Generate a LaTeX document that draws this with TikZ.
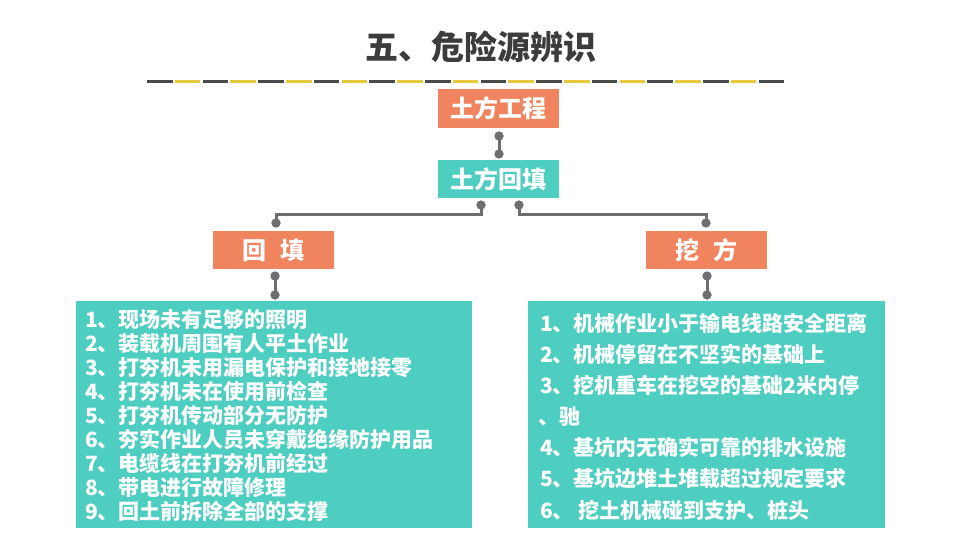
\documentclass[tikz,border=0pt]{standalone}
\usepackage{fontspec}
\newfontfamily\cjk{Noto Sans CJK SC}
\definecolor{orng}{HTML}{F0845E}
\definecolor{tealb}{HTML}{4ECDC1}
\definecolor{conn}{HTML}{6E6E70}
\definecolor{dashd}{HTML}{4A4A4A}
\definecolor{dashy}{HTML}{E6C83C}
\definecolor{ttl}{HTML}{3C3C3C}
\begin{document}
\begin{tikzpicture}[x=1pt,y=-1pt,
  ttlstyle/.style={text=ttl, inner sep=0, font=\cjk\bfseries\fontsize{33}{33}\selectfont},
  obox/.style={fill=orng, inner sep=0, minimum width=121pt, minimum height=38pt, text=white, font=\cjk\bfseries\fontsize{24}{24}\selectfont},
  tbox/.style={fill=tealb, inner sep=0, minimum width=121pt, minimum height=38pt, text=white, font=\cjk\bfseries\fontsize{24}{24}\selectfont},
  bigbox/.style={fill=tealb, inner sep=0},
  item/.style={text=white, anchor=west, inner sep=0, font=\cjk\bfseries\fontsize{21}{22}\selectfont},
  link/.style={draw=conn, line width=3pt},
  dotn/.style={circle, fill=conn, inner sep=0, minimum size=9pt}]
\useasboundingbox (0,0) rectangle (960,540);
\fill[white] (0,0) rectangle (960,540);

% title
\node[ttlstyle] (title) at (480.5,47) {五、危险源辨识};
% dashed rule
\foreach \i in {0,...,22}{
  \pgfmathsetmacro{\xa}{147+\i*27.8}
  \pgfmathsetmacro{\xb}{\xa+25.5}
  \pgfmathparse{mod(\i,2)==0 ? 1 : 0}
  \ifnum\pgfmathresult=1
    \draw[dashd, line width=3pt] (\xa,82) -- (\xb,82);
  \else
    \draw[dashy, line width=3pt] (\xa,82) -- (\xb,82);
  \fi
}

% boxes
\node[obox, minimum height=39pt] (tg) at (498.5,108.5) {土方工程};
\node[tbox] (hb) at (498.5,179) {土方回填};
\node[obox] (hui) at (273.5,250) {回\hspace{0.6em}填};
\node[obox] (wa) at (706.5,250) {挖\hspace{0.6em}方};
\node[bigbox, minimum width=396pt, minimum height=227pt] (lbox) at (274,414.5) {};
\node[bigbox, minimum width=357pt, minimum height=227pt] (rbox) at (706.5,414.5) {};

% connector dots
\node[dotn] (d1) at (499,136) {};
\node[dotn] (d2) at (499,154) {};
\node[dotn] (d3) at (481,205) {};
\node[dotn] (d4) at (276,223) {};
\node[dotn] (d5) at (519,205) {};
\node[dotn] (d6) at (706,223) {};
\node[dotn] (d7) at (275,276) {};
\node[dotn] (d8) at (275,295) {};
\node[dotn] (d9) at (707,276) {};
\node[dotn] (d10) at (707,295) {};
\coordinate (hl) at (0,214);

\draw[link] (d1.center) -- (d2.center);
\draw[link] (d3.center) -- (d3.center |- hl) -| (d4.center);
\draw[link] (d5.center) -- (d5.center |- hl) -| (d6.center);
\draw[link] (d7.center) -- (d8.center);
\draw[link] (d9.center) -- (d10.center);
\foreach \d in {d1,d2,d3,d4,d5,d6,d7,d8,d9,d10}{\fill[conn] (\d) circle (4.5pt);}

% left items
\node[item] (l1) at (85,320.0) {1、现场未有足够的照明};
\node[item] (l2) at (85,343.9) {2、装载机周围有人平土作业};
\node[item] (l3) at (85,367.8) {3、打夯机未用漏电保护和接地接零};
\node[item] (l4) at (85,391.7) {4、打夯机未在使用前检查};
\node[item] (l5) at (85,415.6) {5、打夯机传动部分无防护};
\node[item] (l6) at (85,439.5) {6、夯实作业人员未穿戴绝缘防护用品};
\node[item] (l7) at (85,463.4) {7、电缆线在打夯机前经过};
\node[item] (l8) at (85,487.3) {8、带电进行故障修理};
\node[item] (l9) at (85,511.2) {9、回土前拆除全部的支撑};

% right items
\node[item] (r1) at (540,323) {1、机械作业小于输电线路安全距离};
\node[item] (r2) at (540,354.2) {2、机械停留在不坚实的基础上};
\node[item] (r3) at (540,385.4) {3、挖机重车在挖空的基础2米内停};
\node[item] (r4) at (538,416.6) {、驰};
\node[item] (r5) at (540,447.8) {4、基坑内无确实可靠的排水设施};
\node[item] (r6) at (540,479) {5、基坑边堆土堆载超过规定要求};
\node[item] (r7) at (540,510.2) {6、\ 挖土机械碰到支护、桩头};
\end{tikzpicture}
\end{document}
